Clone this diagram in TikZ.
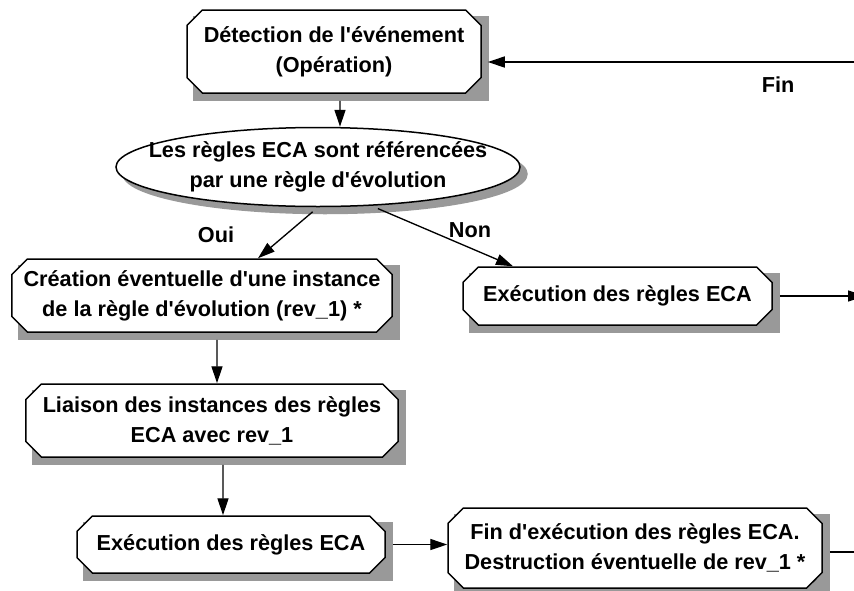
\documentclass[tikz,border=0pt]{standalone}
\usepackage{fontspec}
\setmainfont{Liberation Sans}
\usepackage{tikz}
\usetikzlibrary{shapes.geometric, shapes.misc, arrows.meta}
\definecolor{shadowgray}{RGB}{153,153,153}
\definecolor{flowcolor}{RGB}{0,0,0}

\begin{document}
\begin{tikzpicture}[
    x=0.3mm, y=-0.3mm,
    box/.style={chamfered rectangle, chamfered rectangle xsep=2.3mm, chamfered rectangle ysep=2.3mm,
        draw, line width=0.45mm, fill=white, inner sep=0pt, align=center,
        font=\fontsize{18.5}{25.6}\selectfont\bfseries},
    decision/.style={ellipse, draw, line width=0.45mm, fill=white, inner xsep=-10mm, inner ysep=0pt,
        align=center, font=\fontsize{18.5}{25.6}\selectfont\bfseries},
    boxshade/.style={box, draw=shadowgray, fill=shadowgray},
    decisionshade/.style={decision, draw=shadowgray, fill=shadowgray},
    lbl/.style={font=\fontsize{18.5}{22}\selectfont\bfseries},
    arrow/.style={-{Triangle[length=5.1mm, width=3.3mm]}, line width=0.4mm, flowcolor, shorten <=2.1mm}
]
    % Page frame
    \useasboundingbox (0,0) rectangle (854,590);

    % Event detection and test (shadows first, 7 units down and right)
    \node[boxshade, minimum width=88.2mm, minimum height=24.9mm] (detect-shadow) at (341,58.5) {};
    \node[box, minimum width=88.2mm, minimum height=24.9mm] (detect) at (334,51.5) {Détection de l\textquotesingle événement\\(Opération)};
    \node[decisionshade, minimum width=121.2mm, minimum height=23.7mm] (test-shadow) at (325,174) {};
    \node[decision, minimum width=121.2mm, minimum height=23.7mm] (test) at (318,167) {Les règles ECA sont référencées\\par une règle d\textquotesingle évolution};

    % Oui branch
    \node[boxshade, minimum width=114mm, minimum height=21.9mm] (create-shadow) at (209,302.5) {};
    \node[box, minimum width=114mm, minimum height=21.9mm] (create) at (202,295.5) {Création éventuelle d\textquotesingle une instance\\de la règle d\textquotesingle évolution (rev\_1) *};
    \node[boxshade, minimum width=111.6mm, minimum height=21.9mm] (link-shadow) at (219,427.5) {};
    \node[box, minimum width=111.6mm, minimum height=21.9mm] (link) at (212,420.5) {Liaison des instances des règles\\ECA avec rev\_1};
    \node[boxshade, minimum width=92.4mm, minimum height=17.1mm] (execB-shadow) at (238,551.5) {};
    \node[box, minimum width=92.4mm, minimum height=17.1mm] (execB) at (231,544.5) {Exécution des règles ECA};
    \node[boxshade, minimum width=112.2mm, minimum height=24mm] (finish-shadow) at (642,555) {};
    \node[box, minimum width=112.2mm, minimum height=24mm] (finish) at (635,548) {Fin d\textquotesingle exécution des règles ECA.\\Destruction éventuelle de rev\_1 *};

    % Non branch
    \node[boxshade, minimum width=92.7mm, minimum height=17.4mm] (execA-shadow) at (624.5,303) {};
    \node[box, minimum width=92.7mm, minimum height=17.4mm] (execA) at (617.5,296) {Exécution des règles ECA};

    % Loose ends on the right border
    \coordinate (loop) at (854,62);
    \coordinate (outA) at (865,296);
    \coordinate (outB) at (854,552);

    % Labels
    \node[lbl] (yes) at (216,235) {Oui};
    \node[lbl] (no) at (470,230) {Non};
    \node[lbl] (end) at (778,85) {Fin};

    % Arrows
    \draw[arrow] ([xshift=1.8mm]detect.south) -- ([xshift=6.6mm]test.north);
    \draw[arrow] (test.south) -- ([xshift=16.8mm]create.north);
    \draw[arrow] (test.-36) -- ([xshift=-31.35mm]execA.north);
    \draw[arrow] ([xshift=4.5mm]create.south) -- ([xshift=1.5mm]link.north);
    \draw[arrow] ([xshift=3.3mm]link.south) -- ([xshift=-2.4mm]execB.north);
    \draw[arrow] (execB.east) -- (execB.east -| finish.west);
    \draw[arrow] (execA.east) -- (outA);
    \draw[line width=0.4mm, shorten <=2.1mm] (finish.east |- outB) -- (outB);
    \draw[arrow, shorten <=0pt, shorten >=1.8mm] (loop) -- (loop -| detect.east);
\end{tikzpicture}
\end{document}
